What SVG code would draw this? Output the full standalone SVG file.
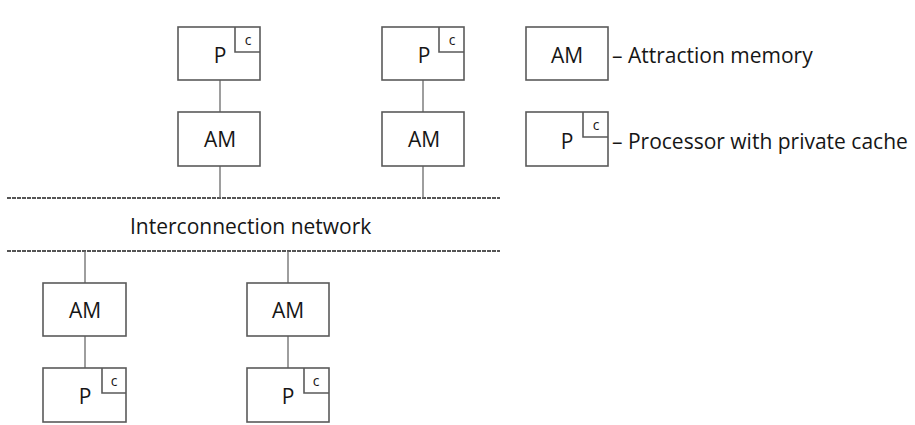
<svg xmlns="http://www.w3.org/2000/svg" width="915" height="425" viewBox="0 0 915 425">
<style>
.box{fill:none;stroke:#5a5a5a;stroke-width:1.6}
.ln{fill:none;stroke:#6a6a6a;stroke-width:1.3}
.bus{fill:none;stroke:#555;stroke-width:1.8;stroke-dasharray:4 1}
text{font-family:"Open Sans","Noto Sans",sans-serif;fill:#161616}
.lbl{font-size:21px;text-anchor:middle}
.c{font-size:14px;text-anchor:middle}
.leg{font-size:21px}
</style>
<g id="connectors">
<line class="bus" x1="7" y1="198" x2="500" y2="198"/>
<line class="bus" x1="7" y1="251" x2="500" y2="251"/>
<line class="ln" x1="220" y1="80" x2="220" y2="112"/>
<line class="ln" x1="220" y1="166" x2="220" y2="198"/>
<line class="ln" x1="423" y1="80" x2="423" y2="112"/>
<line class="ln" x1="423" y1="166" x2="423" y2="198"/>
<line class="ln" x1="85" y1="251" x2="85" y2="283"/>
<line class="ln" x1="85" y1="336" x2="85" y2="368"/>
<line class="ln" x1="288" y1="251" x2="288" y2="283"/>
<line class="ln" x1="288" y1="336" x2="288" y2="368"/>
</g>
<g id="network-label"><text class="leg" x="130" y="234">Interconnection network</text></g>
<g id="p1"><rect class="box" x="178" y="27" width="82" height="53"/><path class="box" d="M235 27V52H260"/><text class="lbl" x="220" y="63">P</text><text class="c" x="248" y="45">c</text></g>
<g id="am1"><rect class="box" x="178" y="112" width="82" height="54"/><text class="lbl" x="220" y="147">AM</text></g>
<g id="p2"><rect class="box" x="382" y="27" width="82" height="53"/><path class="box" d="M439 27V52H464"/><text class="lbl" x="424" y="63">P</text><text class="c" x="452" y="45">c</text></g>
<g id="am2"><rect class="box" x="382" y="112" width="82" height="54"/><text class="lbl" x="424" y="147">AM</text></g>
<g id="am3"><rect class="box" x="43" y="283" width="83" height="53"/><text class="lbl" x="85" y="318">AM</text></g>
<g id="p3"><rect class="box" x="43" y="368" width="83" height="54"/><path class="box" d="M102 368V393H126"/><text class="lbl" x="85" y="404">P</text><text class="c" x="114" y="386">c</text></g>
<g id="am4"><rect class="box" x="247" y="283" width="82" height="53"/><text class="lbl" x="288" y="318">AM</text></g>
<g id="p4"><rect class="box" x="247" y="368" width="82" height="54"/><path class="box" d="M304 368V393H329"/><text class="lbl" x="288" y="404">P</text><text class="c" x="316" y="386">c</text></g>
<g id="legend-am"><rect class="box" x="526" y="27" width="82" height="53"/><text class="lbl" x="567" y="63">AM</text><text class="leg" x="612" y="63">– Attraction memory</text></g>
<g id="legend-p"><rect class="box" x="526" y="112" width="82" height="54"/><path class="box" d="M583 112V137H608"/><text class="lbl" x="567" y="149">P</text><text class="c" x="596" y="130">c</text><text class="leg" x="612" y="149">– Processor with private cache</text></g>
</svg>
